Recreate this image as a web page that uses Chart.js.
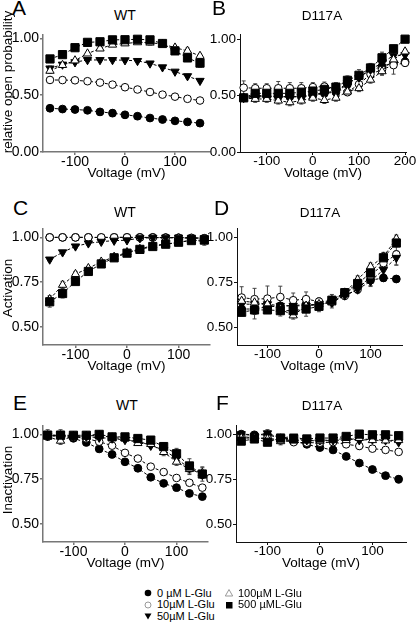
<!DOCTYPE html>
<html><head><meta charset="utf-8">
<script src="https://cdn.jsdelivr.net/npm/chart.js@4/dist/chart.umd.min.js"></script>
<style>
html,body{margin:0;padding:0;width:416px;height:624px;overflow:hidden;background:#fff;font-family:"Liberation Sans",Arial,sans-serif;}
canvas{position:absolute;}
.t{position:absolute;color:#000;white-space:nowrap;line-height:1;}
.yt{position:absolute;color:#000;white-space:nowrap;line-height:1;transform:translate(-50%,-50%) rotate(-90deg);}
svg{position:absolute;}
</style></head><body>
<script>
// ---------- data ----------
const seriesNames = ['0 µM L-Glu','10µM L-Glu','50µM L-Glu','100µM L-Glu','500 µML-Glu'];
const voltage13 = [-150,-125,-100,-75,-50,-25,0,25,50,75,100,125,150];
const voltage15 = [-150,-125,-100,-75,-50,-25,0,25,50,75,100,125,150,175,200];
const xTicks3 = [-100,0,100];
const xTicks4 = [-100,0,100,200];
const yTicksPo = [0,0.5,1.0];
const yTicksAct = [0.5,0.75,1.0];

// A: WT relative open probability
const a0   = [0.385,0.378,0.374,0.367,0.353,0.342,0.327,0.315,0.299,0.286,0.274,0.265,0.254];
const a10  = [0.634,0.633,0.631,0.623,0.611,0.593,0.570,0.550,0.528,0.505,0.487,0.468,0.453];
const a50  = [0.736,0.770,0.791,0.810,0.810,0.810,0.808,0.802,0.780,0.746,0.708,0.668,0.627];
const a100 = [0.714,0.765,0.805,0.866,0.910,0.944,0.955,0.965,0.962,0.950,0.918,0.890,0.845];
const a500 = [0.819,0.857,0.918,0.965,0.970,0.987,0.988,0.992,0.987,0.955,0.890,0.828,0.782];
const a0e   = [0.01,0.01,0.015,0.02,0.03,0.03,0.03,0.025,0.02,0.015,0.015,0.01,0.01];
const a10e  = [0.01,0.01,0.01,0.01,0.01,0.01,0.01,0.01,0.01,0.01,0.01,0.01,0.01];
const a50e  = [0.02,0.015,0.01,0.01,0.01,0.01,0.01,0.01,0.01,0.01,0.01,0.015,0.015];
const a100e = [0.02,0.015,0.01,0.01,0.01,0.01,0.01,0.01,0.02,0.02,0.02,0.025,0.02];
const a500e = [0.03,0.02,0.015,0.01,0.01,0.01,0.01,0.01,0.01,0.015,0.02,0.025,0.035];

// B: D117A relative open probability
const b0   = [0.48,0.49,0.49,0.49,0.49,0.49,0.50,0.52,0.53,0.60,0.67,0.72,0.76,0.79,0.80];
const b10  = [0.57,0.565,0.565,0.565,0.565,0.565,0.575,0.58,0.565,0.53,0.60,0.69,0.73,0.77,0.79];
const b50  = [0.48,0.50,0.50,0.49,0.49,0.49,0.51,0.525,0.54,0.61,0.66,0.73,0.79,0.855,0.86];
const b100 = [0.48,0.47,0.47,0.455,0.44,0.455,0.48,0.46,0.48,0.535,0.565,0.64,0.715,0.82,0.89];
const b500 = [0.48,0.52,0.52,0.52,0.52,0.53,0.54,0.555,0.575,0.635,0.68,0.745,0.835,0.915,1.0];
const b0e   = [0.02,0.02,0.02,0.02,0.02,0.02,0.02,0.02,0.02,0.03,0.03,0.03,0.05,0.03,0.02];
const b10e  = [0.06,0.04,0.04,0.06,0.05,0.05,0.04,0.04,0.04,0.03,0.04,0.04,0.05,0.08,0.03];
const b50e  = [0.02,0.02,0.02,0.02,0.02,0.02,0.02,0.02,0.02,0.03,0.03,0.03,0.04,0.03,0.02];
const b100e = [0.03,0.03,0.03,0.03,0.03,0.03,0.03,0.03,0.03,0.03,0.03,0.03,0.03,0.03,0.02];
const b500e = [0.03,0.03,0.03,0.03,0.03,0.03,0.03,0.03,0.04,0.04,0.05,0.04,0.05,0.03,0.02];

// C: WT activation
const c0   = [1.0,1.0,1.0,1.0,0.999,1.0,1.0,1.0,1.0,0.999,0.998,0.997,0.995];
const c10  = [1.0,1.0,1.0,1.0,1.0,1.0,1.0,0.999,0.999,0.998,0.997,0.996,0.995];
const c50  = [0.877,0.917,0.950,0.967,0.976,0.982,0.984,0.996,0.998,0.999,0.999,0.998,0.995];
const c100 = [0.655,0.735,0.795,0.828,0.864,0.891,0.917,0.935,0.955,0.962,0.971,0.986,0.976];
const c500 = [0.641,0.687,0.754,0.810,0.852,0.886,0.912,0.933,0.949,0.962,0.973,0.982,0.986];
const c0e   = [0,0,0,0,0,0,0,0,0,0,0,0,0];
const c10e  = [0.005,0.005,0.005,0.005,0.005,0.005,0.005,0.005,0.005,0.005,0.005,0.005,0.01];
const c50e  = [0.01,0.01,0.01,0.01,0.005,0.005,0.005,0.005,0.005,0.005,0.005,0.005,0.01];
const c100e = [0.02,0.02,0.015,0.01,0.01,0.01,0.01,0.01,0.01,0.01,0.01,0.01,0.02];
const c500e = [0.03,0.025,0.015,0.01,0.01,0.01,0.01,0.01,0.01,0.01,0.01,0.01,0.02];

// D: D117A activation
const d0   = [0.600,0.600,0.613,0.618,0.618,0.627,0.622,0.651,0.691,0.727,0.760,0.773,0.767];
const d10  = [0.664,0.655,0.658,0.667,0.649,0.655,0.642,0.645,0.673,0.709,0.782,0.855,0.904];
const d50  = [0.627,0.627,0.627,0.618,0.618,0.618,0.627,0.636,0.676,0.709,0.755,0.818,0.885];
const d100 = [0.645,0.636,0.627,0.600,0.564,0.618,0.627,0.636,0.691,0.764,0.836,0.891,0.991];
const d500 = [0.582,0.595,0.595,0.591,0.591,0.600,0.615,0.649,0.691,0.742,0.800,0.885,0.967];
const d0e   = [0.03,0.03,0.03,0.03,0.03,0.03,0.03,0.03,0.02,0.02,0.03,0.02,0.01];
const d10e  = [0.06,0.06,0.07,0.06,0.04,0.04,0.02,0.02,0.02,0.02,0.03,0.03,0.06];
const d50e  = [0.03,0.03,0.03,0.03,0.03,0.03,0.03,0.03,0.02,0.02,0.03,0.03,0.04];
const d100e = [0.03,0.03,0.03,0.03,0.02,0.03,0.02,0.02,0.02,0.02,0.02,0.02,0.02];
const d500e = [0.02,0.05,0.02,0.03,0.03,0.04,0.03,0.02,0.02,0.02,0.03,0.03,0.02];

// E: WT inactivation
const e0   = [0.995,0.991,0.978,0.955,0.919,0.888,0.847,0.811,0.761,0.727,0.703,0.671,0.653];
const e10  = [0.991,0.991,0.987,0.977,0.959,0.937,0.897,0.865,0.820,0.790,0.757,0.730,0.703];
const e50  = [0.991,0.995,0.991,0.987,0.982,0.977,0.969,0.964,0.937,0.914,0.865,0.811,0.775];
const e100 = [0.987,0.964,0.991,0.991,0.995,0.982,0.977,0.951,0.946,0.901,0.847,0.806,0.784];
const e500 = [0.996,0.996,0.995,0.995,1.000,0.986,0.986,0.977,0.968,0.932,0.892,0.824,0.779];
const e0e   = [0.01,0.01,0.01,0.01,0.01,0.01,0.01,0.01,0.01,0.01,0.01,0.01,0.01];
const e10e  = [0.01,0.01,0.01,0.01,0.01,0.01,0.01,0.01,0.01,0.01,0.01,0.01,0.01];
const e50e  = [0.01,0.01,0.01,0.01,0.01,0.01,0.01,0.01,0.01,0.02,0.02,0.02,0.02];
const e100e = [0.02,0.02,0.01,0.01,0.01,0.01,0.01,0.01,0.02,0.02,0.02,0.03,0.03];
const e500e = [0.03,0.03,0.01,0.01,0.01,0.01,0.01,0.01,0.01,0.02,0.03,0.04,0.04];

// F: D117A inactivation
const f0   = [1.000,0.996,0.996,0.978,0.961,0.943,0.925,0.912,0.876,0.839,0.803,0.769,0.749];
const f10  = [0.987,0.978,0.978,0.966,0.955,0.952,0.952,0.955,0.943,0.934,0.919,0.912,0.901];
const f50  = [1.000,0.991,1.005,0.978,0.987,0.966,0.966,0.966,0.978,0.966,0.970,0.966,0.955];
const f100 = [0.978,0.978,0.973,0.960,0.966,0.966,0.960,0.966,0.966,0.978,0.966,0.964,0.966];
const f500 = [0.961,0.973,0.955,0.978,0.973,0.973,0.978,0.978,0.987,1.000,0.996,0.996,0.991];
const f0e   = [0.01,0.01,0.01,0.01,0.01,0.01,0.01,0.01,0.01,0.01,0.01,0.015,0.02];
const f10e  = [0.01,0.01,0.01,0.02,0.01,0.01,0.01,0.01,0.01,0.02,0.01,0.01,0.01];
const f50e  = [0.01,0.01,0.02,0.01,0.01,0.01,0.01,0.01,0.01,0.01,0.01,0.01,0.01];
const f100e = [0.01,0.01,0.01,0.02,0.01,0.02,0.01,0.01,0.01,0.01,0.01,0.01,0.01];
const f500e = [0.01,0.01,0.01,0.01,0.01,0.01,0.01,0.01,0.01,0.01,0.01,0.01,0.01];

// ---------- layout / styles ----------
const PANELS = [
  {area:[43,33,210,152], yW:43, x:[-164,170], y:[0,1.035], xt:xTicks3, yt:yTicksPo, v:voltage13,
   s:[a0,a10,a50,a100,a500], e:[a0e,a10e,a50e,a100e,a500e], ac:'#777', aw:1.5, fs:14},
  {area:[240,33,406,152], yW:40, x:[-158,202], y:[0,1.045], xt:xTicks4, yt:yTicksPo, v:voltage15,
   s:[b0,b10,b50,b100,b500], e:[b0e,b10e,b50e,b100e,b500e], ac:'#111', aw:1, fs:13.5},
  {area:[43,227,210,345], yW:43, x:[-163,161], y:[0.4,1.05], xt:xTicks3, yt:yTicksAct, v:voltage13,
   s:[c0,c10,c50,c100,c500], e:[c0e,c10e,c50e,c100e,c500e], ac:'#777', aw:1.5, fs:14},
  {area:[237,227,402,345], yW:40, x:[-159,161], y:[0.4,1.05], xt:xTicks3, yt:yTicksAct, v:voltage13,
   s:[d0,d10,d50,d100,d500], e:[d0e,d10e,d50e,d100e,d500e], ac:'#111', aw:1, fs:13.5},
  {area:[43,424,208,542], yW:43, x:[-159,161], y:[0.4,1.05], xt:xTicks3, yt:yTicksAct, v:voltage13,
   s:[e0,e10,e50,e100,e500], e:[e0e,e10e,e50e,e100e,e500e], ac:'#777', aw:1.5, fs:14},
  {area:[236,424,406,542], yW:40, x:[-160,164], y:[0.4,1.05], xt:xTicks3, yt:yTicksAct, v:voltage13,
   s:[f0,f10,f50,f100,f500], e:[f0e,f10e,f50e,f100e,f500e], ac:'#111', aw:1, fs:13.5},
];

const MARK = [
  {pointStyle:'circle',   radius:3.9, bg:'#000', rot:0},
  {pointStyle:'circle',   radius:3.8, bg:'#fff', rot:0},
  {pointStyle:'triangle', radius:4.8, bg:'#000', rot:180},
  {pointStyle:'triangle', radius:4.8, bg:'#fff', rot:0},
  {pointStyle:'rect',     radius:5.8, bg:'#000', rot:0},
];

const FONT = '"Liberation Sans", Arial, sans-serif';
const PT = 8, PR = 12, XH = 29;

const errorBars = {
  id:'errorBars',
  beforeDatasetsDraw(chart){
    const {ctx, scales:{x,y}} = chart;
    ctx.save();
    ctx.strokeStyle = '#444'; ctx.lineWidth = 1;
    chart.data.datasets.forEach(ds=>{
      if(!ds.err) return;
      ds.data.forEach((p,i)=>{
        const e = ds.err[i]; if(!e) return;
        const px = x.getPixelForValue(p.x), y1 = y.getPixelForValue(p.y+e), y2 = y.getPixelForValue(p.y-e);
        ctx.beginPath();
        ctx.moveTo(px,y1); ctx.lineTo(px,y2);
        ctx.moveTo(px-2,y1); ctx.lineTo(px+2,y1);
        ctx.moveTo(px-2,y2); ctx.lineTo(px+2,y2);
        ctx.stroke();
      });
    });
    ctx.restore();
  }
};

function addText(str, x, baseline, size, align){
  const d = document.createElement('div');
  d.className = 't';
  d.textContent = str;
  d.style.fontSize = size + 'px';
  d.style.top = (baseline - 0.8465*size) + 'px';
  d.style.left = x + 'px';
  if(align === 'center') d.style.transform = 'translateX(-50%)';
  document.body.appendChild(d);
}
function addYTitle(str, cx, cy, size){
  const d = document.createElement('div');
  d.className = 'yt';
  d.textContent = str;
  d.style.fontSize = size + 'px';
  d.style.left = cx + 'px'; d.style.top = cy + 'px';
  document.body.appendChild(d);
}

PANELS.forEach(P=>{
  const [L,T,R,B] = P.area;
  const cv = document.createElement('canvas');
  const W = P.yW + (R-L) + PR, H = PT + (B-T) + XH;
  cv.width = W; cv.height = H;
  cv.style.left = (L - P.yW) + 'px'; cv.style.top = (T - PT) + 'px';
  cv.style.width = W + 'px'; cv.style.height = H + 'px';
  document.body.appendChild(cv);

  const datasets = P.s.map((vals,k)=>({
    label: seriesNames[k],
    data: P.v.map((v,i)=>({x:v, y:vals[i]})),
    err: P.e[k],
    showLine:true,
    borderColor:'#000', borderWidth:1, borderDash:[3,2],
    pointStyle:MARK[k].pointStyle, pointRadius:MARK[k].radius, pointRotation:MARK[k].rot,
    pointBackgroundColor:MARK[k].bg, pointBorderColor:'#000', pointBorderWidth:1,
    clip:false, order: 5-k
  }));

  new Chart(cv, {
    type:'scatter',
    data:{datasets},
    options:{
      responsive:false, animation:false, devicePixelRatio:1,
      layout:{padding:{top:PT,right:PR,bottom:0,left:0}},
      plugins:{legend:{display:false}, tooltip:{enabled:false}, title:{display:false}},
      scales:{
        x:{type:'linear', min:P.x[0], max:P.x[1],
           afterBuildTicks:s=>{ s.ticks = P.xt.map(v=>({value:v})); },
           afterFit:s=>{ s.height = XH; },
           grid:{drawOnChartArea:false, drawTicks:true, tickLength:3, color:P.ac, lineWidth:P.aw},
           border:{display:true, color:P.ac, width:P.aw},
           ticks:{color:'#000', padding:0, maxRotation:0, autoSkip:false, font:{family:FONT, size:P.fs, lineHeight:1}, callback:v=>String(v)},
           title:{display:true, text:'Voltage (mV)', color:'#000', padding:{top:0,bottom:0}, font:{family:FONT, size:13.5, lineHeight:1.1}}
        },
        y:{type:'linear', min:P.y[0], max:P.y[1],
           afterBuildTicks:s=>{ s.ticks = P.yt.map(v=>({value:v})); },
           afterFit:s=>{ s.width = P.yW; },
           grid:{drawOnChartArea:false, drawTicks:true, tickLength:3, color:P.ac, lineWidth:P.aw},
           border:{display:true, color:P.ac, width:P.aw},
           ticks:{color:'#000', padding:1, autoSkip:false, font:{family:FONT, size:P.fs}, callback:v=>Number(v).toFixed(2)}
        }
      }
    },
    plugins:[errorBars]
  });
});

// panel letters and titles
addText('A', 12, 15, 21); addText('WT', 125, 20, 14, 'center');
addText('B', 212, 15, 21); addText('D117A', 322, 20, 13.5, 'center');
addText('C', 13, 215, 21); addText('WT', 125, 217, 14, 'center');
addText('D', 214, 215, 21); addText('D117A', 320, 217, 13.5, 'center');
addText('E', 13, 410, 21); addText('WT', 127, 410, 14, 'center');
addText('F', 216, 410, 21); addText('D117A', 322, 410, 13.5, 'center');
addYTitle('relative open probability', 8, 82, 13.5);
addYTitle('Activation', 8, 288, 13.5);
addYTitle('Inactivation', 8, 480, 13.5);

// legend
const legendPos = [[148,597],[148,608.5],[148,620],[229,597],[229,608.5]];
const svgs = [
  '<circle cx="5" cy="5" r="3.3" fill="#000"/>',
  '<circle cx="5" cy="5" r="3" fill="#fff" stroke="#999" stroke-width="1"/>',
  '<polygon points="1.5,2.5 8.5,2.5 5,8.5" fill="#000"/>',
  '<polygon points="5,1.5 8.7,8 1.3,8" fill="#fff" stroke="#999" stroke-width="1"/>',
  '<rect x="2" y="2" width="6.5" height="6.5" fill="#000"/>'
];
legendPos.forEach(([x,b],k)=>{
  const s = document.createElementNS('http://www.w3.org/2000/svg','svg');
  s.setAttribute('width','10'); s.setAttribute('height','10');
  s.style.left = (x-5)+'px'; s.style.top = (b-4-5)+'px';
  s.innerHTML = svgs[k];
  document.body.appendChild(s);
  addText(seriesNames[k], x+9, b, 11);
});
</script>
</body></html>
